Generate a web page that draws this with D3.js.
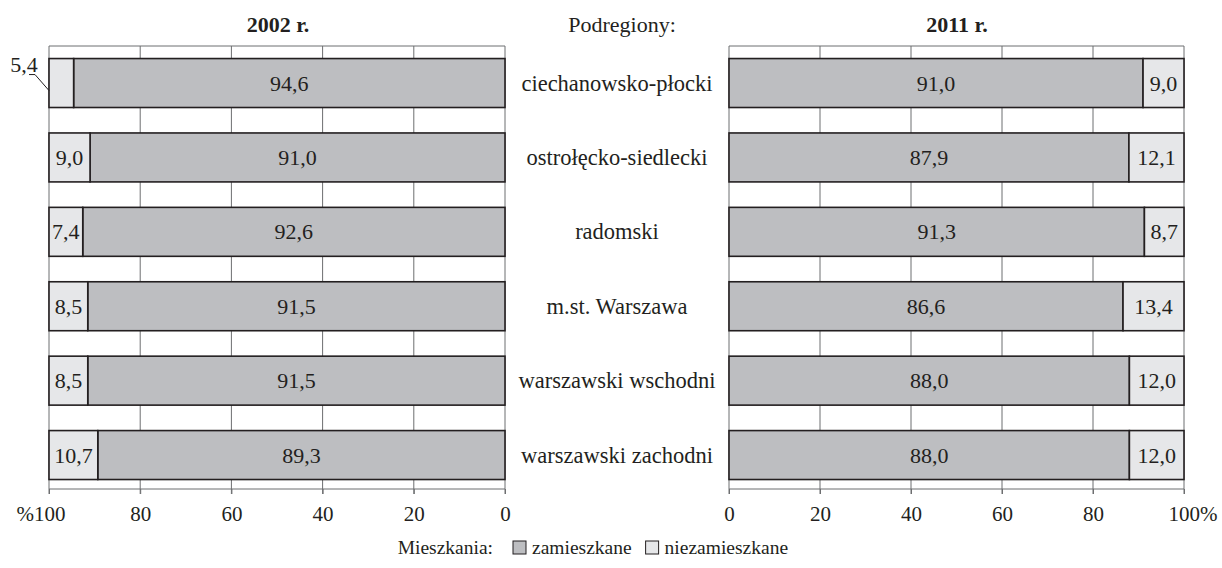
<!DOCTYPE html>
<html>
<head>
<meta charset="utf-8">
<script src="https://cdn.jsdelivr.net/npm/d3@7"></script>
<style>
  html, body { margin: 0; padding: 0; background: #fff; }
  svg text { font-family: "Liberation Serif", "DejaVu Serif", serif; fill: #231f20; }
</style>
</head>
<body>
<script>
var w = 1222, h = 568;

// data
var regions = ["ciechanowsko-płocki", "ostrołęcko-siedlecki", "radomski",
               "m.st. Warszawa", "warszawski wschodni", "warszawski zachodni"];
var occupied2002 = [94.6, 91.0, 92.6, 91.5, 91.5, 89.3];
var empty2002    = [5.4, 9.0, 7.4, 8.5, 8.5, 10.7];
var occupied2011 = [91.0, 87.9, 91.3, 86.6, 88.0, 88.0];
var empty2011    = [9.0, 12.1, 8.7, 13.4, 12.0, 12.0];
var ticks = [0, 20, 40, 60, 80, 100];

var colOcc = "#bdbec1", colEmpty = "#e6e7e9", colLine = "#231f20", colGrid = "#6d6e70";
var fmt = function(v){ return v.toFixed(1).replace(".", ","); };

var svg = d3.select("body").append("svg").attr("width", w).attr("height", h);

// note: "top" is a reserved window property, so use plotTop
var plotTop = 46, plotBottom = 489;
var y = d3.scaleBand().domain(regions).range([plotTop, plotBottom])
  .paddingInner(0.342).paddingOuter(0.148).align(0.57);

var xL = d3.scaleLinear().domain([0, 100]).range([505, 49]);
var xR = d3.scaleLinear().domain([0, 100]).range([729, 1184]);

function panel(x, occ, emp, pctSide) {
  var g = svg.append("g");

  // grid + frame lines
  g.selectAll("line.grid")
    .data(ticks)
    .enter().append("line")
    .attr("x1", function(d){ return x(d); })
    .attr("x2", function(d){ return x(d); })
    .attr("y1", plotTop).attr("y2", plotBottom + 5)
    .attr("stroke", colGrid).attr("stroke-width", 1);
  g.append("line")
    .attr("x1", x(0)).attr("x2", x(100)).attr("y1", plotTop).attr("y2", plotTop)
    .attr("stroke", colGrid).attr("stroke-width", 1);

  // axis
  var ax = g.append("g")
    .attr("transform", "translate(0," + plotBottom + ")")
    .call(d3.axisBottom(x).tickValues(ticks).tickSize(5).tickPadding(12)
      .tickFormat(function(d){
        if (d === 100) return pctSide === "left" ? "%100" : "100%";
        return d;
      }));
  ax.select(".domain").attr("stroke", colGrid).attr("d", "M" + x(0) + ",0H" + x(100));
  ax.selectAll(".tick line").attr("stroke", colGrid);
  ax.selectAll(".tick text")
    .attr("font-size", 21).attr("fill", colLine)
    .attr("font-family", "Liberation Serif, serif")
    .filter(function(d){ return d === 100; })
    .attr("text-anchor", pctSide === "left" ? "end" : "start")
    .attr("dx", pctSide === "left" ? 16 : -16);

  var rows = g.selectAll("g.row")
    .data(regions)
    .enter().append("g")
    .attr("transform", function(d){ return "translate(0," + y(d) + ")"; });

  rows.append("rect")
    .attr("x", function(d, i){ return Math.min(x(0), x(occ[i])); })
    .attr("width", function(d, i){ return Math.abs(x(occ[i]) - x(0)); })
    .attr("height", y.bandwidth())
    .attr("fill", colOcc).attr("stroke", colLine).attr("stroke-width", 1.6);

  rows.append("rect")
    .attr("x", function(d, i){ return Math.min(x(occ[i]), x(100)); })
    .attr("width", function(d, i){ return Math.abs(x(100) - x(occ[i])); })
    .attr("height", y.bandwidth())
    .attr("fill", colEmpty).attr("stroke", colLine).attr("stroke-width", 1.6);

  rows.append("text")
    .attr("x", function(d, i){ return x(occ[i] / 2); })
    .attr("y", y.bandwidth() / 2 + 7.5)
    .attr("text-anchor", "middle").attr("font-size", 22)
    .text(function(d, i){ return fmt(occ[i]); });

  rows.each(function(d, i){
    var r = d3.select(this);
    var cx = x((occ[i] + 100) / 2);
    if (emp[i] >= 6) {
      r.append("text")
        .attr("x", cx).attr("y", y.bandwidth() / 2 + 7.5)
        .attr("text-anchor", "middle").attr("font-size", 22)
        .text(fmt(emp[i]));
    } else {
      // label outside with leader line
      var ex = x(100);
      r.append("text")
        .attr("x", ex - 25).attr("y", 13)
        .attr("text-anchor", "middle").attr("font-size", 22)
        .text(fmt(emp[i]));
      r.append("polyline")
        .attr("points", [[ex - 20, 16], [ex - 14, 16], [ex, 32]].map(function(p){ return p.join(","); }).join(" "))
        .attr("fill", "none").attr("stroke", colLine).attr("stroke-width", 1);
    }
  });
}

panel(xL, occupied2002, empty2002, "left");
panel(xR, occupied2011, empty2011, "right");

// category labels
svg.selectAll("text.cat")
  .data(regions)
  .enter().append("text")
  .attr("class", "cat")
  .attr("x", 617)
  .attr("y", function(d){ return y(d) + y.bandwidth() / 2 + 7.5; })
  .attr("text-anchor", "middle").attr("font-size", 22.5)
  .text(function(d){ return d; });

// titles
svg.append("text").attr("x", 278).attr("y", 32).attr("text-anchor", "middle")
  .attr("font-size", 22).attr("font-weight", "bold").text("2002 r.");
svg.append("text").attr("x", 957).attr("y", 32).attr("text-anchor", "middle")
  .attr("font-size", 22).attr("font-weight", "bold").text("2011 r.");
svg.append("text").attr("x", 622).attr("y", 32).attr("text-anchor", "middle")
  .attr("font-size", 22).text("Podregiony:");

// legend
var lg = svg.append("g").attr("transform", "translate(0,554)");
lg.append("text").attr("x", 493).attr("y", 0).attr("text-anchor", "end")
  .attr("font-size", 19.5).text("Mieszkania:");
var items = [["zamieszkane", colOcc], ["niezamieszkane", colEmpty]];
var lx = 513;
items.forEach(function(it){
  lg.append("rect").attr("x", lx).attr("y", -13).attr("width", 13).attr("height", 13)
    .attr("fill", it[1]).attr("stroke", colLine).attr("stroke-width", 1);
  var t = lg.append("text").attr("x", lx + 19).attr("y", 0).attr("font-size", 19.5).text(it[0]);
  lx += 19 + t.node().getComputedTextLength() + 14;
});
</script>
</body>
</html>
